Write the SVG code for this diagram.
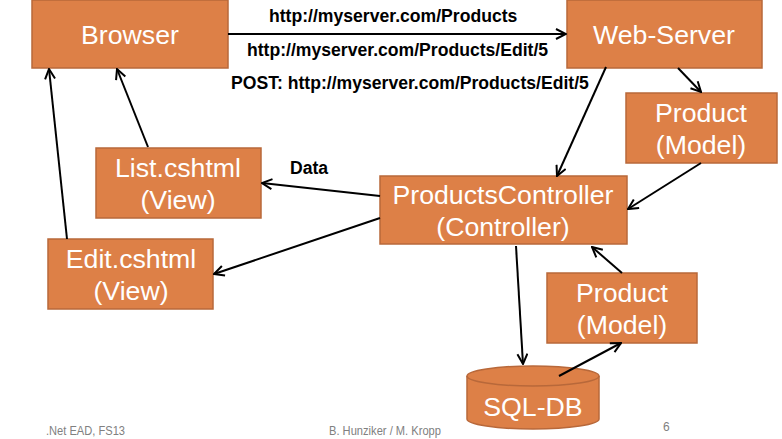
<svg xmlns="http://www.w3.org/2000/svg" width="782" height="439" viewBox="0 0 782 439">
<style>
.box{fill:#DD8047;stroke:#B8683A;stroke-width:1.5}
.t{fill:#fff;font-family:"Liberation Sans",Arial,sans-serif;font-size:26.7px;text-anchor:middle}
.lbl{fill:#000;font-family:"Liberation Sans",Arial,sans-serif;font-size:17.6px;font-weight:bold}
.ft{fill:#808080;font-family:"Liberation Sans",Arial,sans-serif;font-size:12px}
.c line{stroke:#000;stroke-width:2;marker-end:url(#ah)}
</style>
<defs>
<marker id="ah" viewBox="0 0 12 12" refX="11" refY="6" markerWidth="6" markerHeight="6" orient="auto" markerUnits="strokeWidth">
<path d="M1,1 L11,6 L1,11" fill="none" stroke="#000" stroke-width="2"/>
</marker>
</defs>
<rect width="782" height="439" fill="#fff"/>
<g id="browser"><rect class="box" x="32" y="0" width="196" height="68"/><text class="t" x="130" y="44">Browser</text></g>
<g id="webserver"><rect class="box" x="567" y="0" width="195" height="68"/><text class="t" x="664" y="44">Web-Server</text></g>
<g id="product-top"><rect class="box" x="626" y="93" width="151" height="70"/><text class="t" x="701" y="122">Product</text><text class="t" x="701" y="154">(Model)</text></g>
<g id="controller"><rect class="box" x="380" y="176" width="247" height="68"/><text class="t" x="503" y="204">ProductsController</text><text class="t" x="503" y="236">(Controller)</text></g>
<g id="list"><rect class="box" x="96" y="148" width="165" height="70"/><text class="t" x="178" y="177">List.cshtml</text><text class="t" x="178" y="209">(View)</text></g>
<g id="edit"><rect class="box" x="48" y="239" width="165" height="70"/><text class="t" x="131" y="268">Edit.cshtml</text><text class="t" x="131" y="300">(View)</text></g>
<g id="product-bottom"><rect class="box" x="547" y="273" width="150" height="70"/><text class="t" x="622" y="302">Product</text><text class="t" x="622" y="334">(Model)</text></g>
<g id="sqldb"><path class="box" d="M467,376 L467,419 A66,10 0 0 0 599,419 L599,376 A66,10 0 0 0 467,376 Z"/><path d="M467,376 A66,10 0 0 0 599,376" fill="none" stroke="#B8683A" stroke-width="1.5"/><text class="t" x="533" y="416">SQL-DB</text></g>
<g class="c" id="connectors">
<line x1="228" y1="34" x2="566" y2="34"/>
<line x1="678" y1="68" x2="701" y2="92"/>
<line x1="606" y1="67" x2="557" y2="176"/>
<line x1="701" y1="163" x2="628" y2="209"/>
<line x1="622" y1="273" x2="592" y2="247"/>
<line x1="516" y1="246" x2="523" y2="364"/>
<line x1="559" y1="376" x2="621" y2="343"/>
<line x1="380" y1="196" x2="262" y2="183"/>
<line x1="380" y1="218" x2="214" y2="274"/>
<line x1="148" y1="147" x2="117" y2="69"/>
<line x1="67" y1="239" x2="49" y2="69"/>
</g>
<g id="labels">
<text class="lbl" x="269" y="22">http://myserver.com/Products</text>
<text class="lbl" x="247" y="56">http://myserver.com/Products/Edit/5</text>
<text class="lbl" x="231" y="89">POST: http://myserver.com/Products/Edit/5</text>
<text class="lbl" x="290" y="174">Data</text>
</g>
<g id="footer">
<text class="ft" x="46" y="435" textLength="79" lengthAdjust="spacingAndGlyphs">.Net EAD,  FS13</text>
<text class="ft" x="329" y="435" textLength="112" lengthAdjust="spacingAndGlyphs">B. Hunziker / M. Kropp</text>
<text class="ft" x="663" y="431">6</text>
</g>
</svg>
